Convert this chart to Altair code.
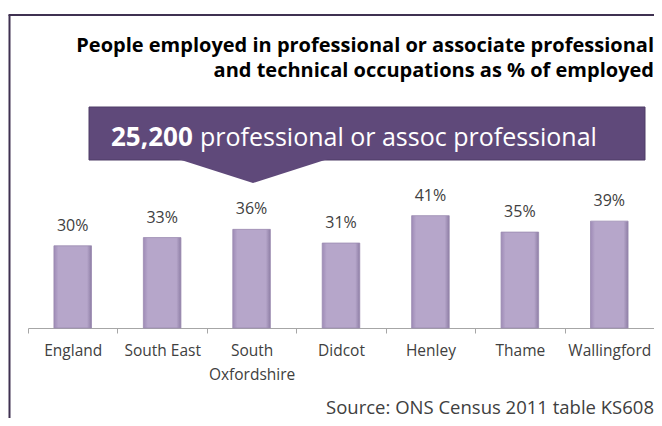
import altair as alt
import pandas as pd

# ---- data ----
categories = ["England", "South East", "South Oxfordshire", "Didcot", "Henley", "Thame", "Wallingford"]
values = [0.30, 0.33, 0.36, 0.31, 0.41, 0.35, 0.39]
value_labels = ["30%", "33%", "36%", "31%", "41%", "35%", "39%"]

title_lines = [
    "People employed in professional or associate professional",
    "and technical occupations as % of employed",
]
callout_number = "25,200"
callout_text = "professional or assoc professional"
source_text = "Source: ONS Census 2011 table KS608"

FONT = "Open Sans"
BORDER = "#3f3151"
BOX = "#5f497a"
TEXT = "#404040"

df = pd.DataFrame({"cat": categories, "val": values, "lab": value_labels})
one = pd.DataFrame({"k": [0]})

x_enc = alt.X(
    "cat:N",
    sort=categories,
    title=None,
    scale=alt.Scale(paddingInner=0, paddingOuter=0),
    axis=alt.Axis(
        labelAngle=0,
        labelFont=FONT,
        labelFontSize=15.5,
        labelColor=TEXT,
        labelPadding=10,
        labelLineHeight=24,
        labelOverlap=False,
        labelExpr="datum.label == 'South Oxfordshire' ? ['South', 'Oxfordshire'] : datum.label",
        domainColor="#a6a6a6",
        tickColor="#a6a6a6",
        tickSize=5,
        tickBand="extent",
        grid=False,
    ),
)
y_enc = alt.Y("val:Q", axis=None, scale=alt.Scale(domain=[0, 0.5]))

base = alt.Chart(df)

bars = base.mark_bar(
    width=alt.RelativeBandSize(0.42),
    color=alt.Gradient(
        gradient="linear",
        x1=0, x2=1, y1=0, y2=0,
        stops=[
            alt.GradientStop(color="#9e8bb6", offset=0),
            alt.GradientStop(color="#b6a6ca", offset=0.12),
            alt.GradientStop(color="#b6a6ca", offset=0.88),
            alt.GradientStop(color="#8e7ea5", offset=1),
        ],
    ),
    stroke="#9a8ab0",
    strokeWidth=0.8,
).encode(x=x_enc, y=y_enc)

labels = base.mark_text(
    font=FONT, fontSize=16, color=TEXT, baseline="alphabetic", dy=-15
).encode(x=alt.X("cat:N", sort=categories), y=y_enc, text="lab:N")

ann = alt.Chart(one)

border_left = ann.mark_rule(color=BORDER, strokeWidth=2).encode(
    x=alt.value(-18.5), y=alt.value(-176), y2=alt.value(240)
)
border_top = ann.mark_rule(color=BORDER, strokeWidth=2).encode(
    x=alt.value(-19.5), x2=alt.value(640), y=alt.value(-176)
)

title1 = ann.mark_text(
    font=FONT, fontSize=20, fontWeight="bold", color="#000000", align="right", baseline="alphabetic"
).encode(x=alt.value(626), y=alt.value(-139), text=alt.value(title_lines[0]))
title2 = ann.mark_text(
    font=FONT, fontSize=20, fontWeight="bold", color="#000000", align="right", baseline="alphabetic"
).encode(x=alt.value(626), y=alt.value(-114), text=alt.value(title_lines[1]))

box = ann.mark_rect(color=BOX, stroke="#4e3c66", strokeWidth=1).encode(
    x=alt.value(61), x2=alt.value(617), y=alt.value(-84), y2=alt.value(-31)
)
pointer = ann.mark_point(
    shape="M -1 0 L 1 0 L 0 0.32 Z", size=22500, filled=True, color=BOX, opacity=1, strokeWidth=0
).encode(x=alt.value(225), y=alt.value(-32))

num = ann.mark_text(
    font=FONT, fontSize=26, fontWeight="bold", color="#ffffff", align="left", baseline="alphabetic"
).encode(x=alt.value(83), y=alt.value(-45), text=alt.value(callout_number))
txt = ann.mark_text(
    font=FONT, fontSize=25, color="#ffffff", align="left", baseline="alphabetic"
).encode(x=alt.value(172), y=alt.value(-45), text=alt.value(callout_text))

source = ann.mark_text(
    font=FONT, fontSize=18.5, color=TEXT, align="right", baseline="alphabetic"
).encode(x=alt.value(626), y=alt.value(223), text=alt.value(source_text))

chart = alt.layer(
    bars, labels, border_left, border_top, title1, title2, box, pointer, num, txt, source
).properties(
    width=626,
    height=137,
    autosize=alt.AutoSizeParams(type="none"),
    padding={"left": 20, "top": 183, "right": 0, "bottom": 90},
).configure_view(stroke=None)

chart.save("out.html", embed_options={"renderer": "svg", "actions": False})
